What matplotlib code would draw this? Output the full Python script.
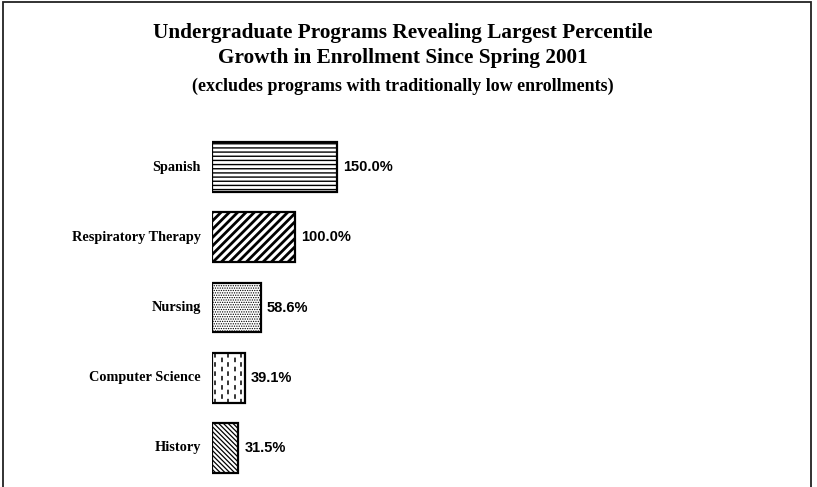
import matplotlib
matplotlib.use("Agg")
import matplotlib.pyplot as plt
from matplotlib.patches import Rectangle

programs = ["Spanish", "Respiratory Therapy", "Nursing", "Computer Science", "History"]
growth = [150.0, 100.0, 58.6, 39.1, 31.5]
value_labels = ["150.0%", "100.0%", "58.6%", "39.1%", "31.5%"]

title_lines = ["Undergraduate Programs Revealing Largest Percentile",
               "Growth in Enrollment Since Spring 2001"]
subtitle = "(excludes programs with traditionally low enrollments)"

W, H = 817, 487
fig = plt.figure(figsize=(W / 100, H / 100), dpi=100)
fig.patch.set_facecolor("white")

# outer frame (bottom edge runs off the picture)
fig.add_artist(Rectangle((3 / W, -0.05), 808 / W, 1.05 - 2 / H,
                         transform=fig.transFigure, fill=False,
                         edgecolor="#222222", linewidth=1.3))

serif = "Liberation Serif"
sans = "Liberation Sans"

fig.text(403 / W, 1 - 33 / H, title_lines[0], ha="center", va="center",
         family=serif, weight="bold", fontsize=15.3)
fig.text(403 / W, 1 - 58 / H, title_lines[1], ha="center", va="center",
         family=serif, weight="bold", fontsize=15.3)
fig.text(403 / W, 1 - 86 / H, subtitle, ha="center", va="center",
         family=serif, weight="bold", fontsize=13)

# axes: x=0 at pixel 212, 500 px wide for 600 %
ax = fig.add_axes([212 / W, 4 / H, 500 / W, 351 / H])
ax.set_xlim(0, 600)
ax.set_ylim(len(programs) - 0.5, -0.5)
ax.axis("off")

hatches = ["----", "////", ".......", "", "\\" * 7]
hatch_lw = [1.0, 2.0, 0.6, 1.0, 0.9]

ypos = list(range(len(programs)))
bars = ax.barh(ypos, growth, height=0.71, color="white", edgecolor="black",
               linewidth=1.6)
for b, h, lw in zip(bars, hatches, hatch_lw):
    b.set_hatch(h)
    if hasattr(b, "set_hatch_linewidth"):
        b.set_hatch_linewidth(lw)

# dashed vertical pattern for Computer Science
cs = bars[3]
x0, w = cs.get_x(), cs.get_width()
y0, hh = cs.get_y(), cs.get_height()
cols = 5
for i in range(cols):
    xx = x0 + w * (i + 0.5) / cols
    off = 0 if i % 2 == 0 else 3
    ln, = ax.plot([xx, xx], [y0, y0 + hh], color="black", linewidth=1.1,
                  linestyle=(off, (3, 3)))
    ln.set_clip_path(cs)

for y, v, lab in zip(ypos, growth, value_labels):
    ax.annotate(lab, (v, y), xytext=(4.5, 0), textcoords="offset points",
                ha="left", va="center", family=sans, weight="bold",
                fontsize=10.5)
    ax.annotate(programs[y], (0, y), xytext=(-8, 0), textcoords="offset points",
                ha="right", va="center", family=serif, weight="bold",
                fontsize=10.3)

fig.savefig("out.png", dpi=100)
